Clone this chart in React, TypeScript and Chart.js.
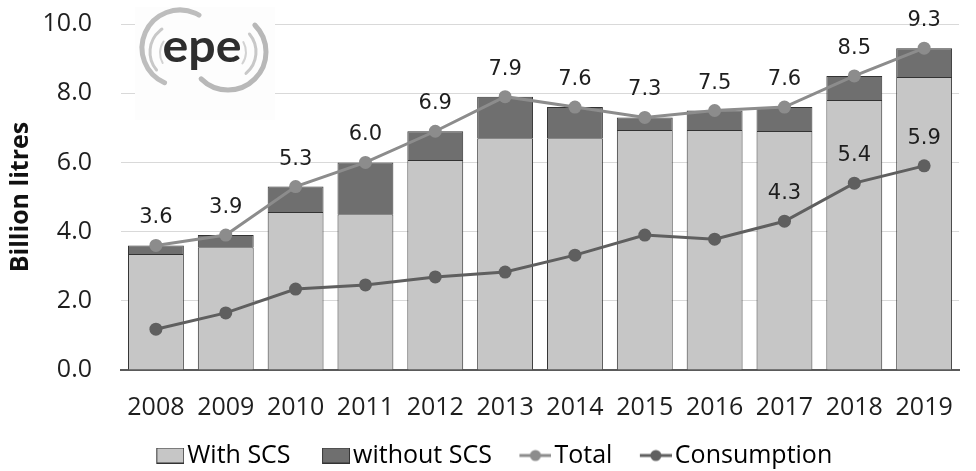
import React, { useEffect, useRef } from "react";
import { Chart, registerables } from "chart.js";

Chart.register(...registerables);

const years = ["2008", "2009", "2010", "2011", "2012", "2013", "2014", "2015", "2016", "2017", "2018", "2019"];
const withSCS = [3.35, 3.55, 4.57, 4.5, 6.07, 6.7, 6.7, 6.94, 6.94, 6.91, 7.8, 8.47];
const withoutSCS = [0.25, 0.35, 0.73, 1.5, 0.83, 1.2, 0.9, 0.36, 0.56, 0.69, 0.7, 0.83];
const total = [3.6, 3.9, 5.3, 6.0, 6.9, 7.9, 7.6, 7.3, 7.5, 7.6, 8.5, 9.3];
const consumption = [1.18, 1.65, 2.34, 2.46, 2.69, 2.83, 3.32, 3.9, 3.78, 4.3, 5.4, 5.9];
const consumptionLabelYears = ["2017", "2018", "2019"];
const yTicks = [0, 2, 4, 6, 8, 10];

const COL_WITH = "#c6c6c6";
const COL_WITHOUT = "#6f6f6f";
const COL_TOTAL = "#8c8c8c";
const COL_CONS = "#5f5f5f";
const COL_BORDER = "#333333";
const FONT = "'Open Sans'";

function rectImg(fill: string) {
  const c = document.createElement("canvas");
  c.width = 51;
  c.height = 16;
  const g = c.getContext("2d")!;
  g.fillStyle = fill;
  g.fillRect(23.5, 0.5, 27, 15);
  g.strokeStyle = COL_BORDER;
  g.lineWidth = 1;
  g.strokeRect(23.5, 0.5, 27, 15);
  return c;
}
function lineImg(color: string) {
  const c = document.createElement("canvas");
  c.width = 51;
  c.height = 14;
  const g = c.getContext("2d")!;
  g.strokeStyle = color;
  g.lineWidth = 3;
  g.beginPath();
  g.moveTo(19, 7);
  g.lineTo(51, 7);
  g.stroke();
  g.fillStyle = color;
  g.beginPath();
  g.arc(35, 7, 5.5, 0, Math.PI * 2);
  g.fill();
  return c;
}

const logoPlugin = {
  id: "logo",
  beforeDatasetsDraw(chart: any) {
    const ctx = chart.ctx;
    ctx.save();
    ctx.fillStyle = "#fdfdfd";
    ctx.fillRect(135, 7, 140, 113);
    const arc = (cx: number, cy: number, r: number, a0: number, a1: number, w: number, col: string) => {
      ctx.beginPath();
      ctx.strokeStyle = col;
      ctx.lineWidth = w;
      ctx.lineCap = "round";
      ctx.arc(cx, cy, r, (a0 * Math.PI) / 180, (a1 * Math.PI) / 180);
      ctx.stroke();
    };
    // left arcs
    arc(180, 48, 38, 114, 300, 5, "#bdbdbd");
    arc(178, 52, 28, 140, 235, 3, "#c8c8c8");
    arc(180, 53, 20, 150, 215, 2, "#d2d2d2");
    // right arcs
    arc(228, 52, 38, -45, 135, 5, "#b8b8b8");
    arc(228, 52, 28, -40, 50, 3, "#c8c8c8");
    arc(226, 52, 20, -30, 35, 2, "#d2d2d2");
    ctx.fillStyle = "#2e2e2e";
    ctx.font = "bold 46px Lato";
    ctx.textAlign = "center";
    ctx.textBaseline = "alphabetic";
    ctx.translate(202, 62);
    ctx.scale(1.05, 1);
    ctx.fillText("epe", 0, 0);
    ctx.restore();
  },
};

const labelPlugin = {
  id: "valueLabels",
  afterDatasetsDraw(chart: any) {
    const ctx = chart.ctx;
    ctx.save();
    ctx.font = "21px 'DejaVu Sans'";
    ctx.fillStyle = "#1e1e1e";
    ctx.textAlign = "center";
    ctx.textBaseline = "alphabetic";
    const tMeta = chart.getDatasetMeta(2);
    tMeta.data.forEach((p: any, i: number) => {
      ctx.fillText(total[i].toFixed(1), p.x, p.y - 22);
    });
    const cMeta = chart.getDatasetMeta(3);
    cMeta.data.forEach((p: any, i: number) => {
      if (consumptionLabelYears.includes(years[i])) {
        ctx.fillText(consumption[i].toFixed(1), p.x, p.y - 22);
      }
    });
    ctx.restore();
  },
};

export default function App() {
  const ref = useRef<HTMLCanvasElement | null>(null);
  useEffect(() => {
    const imgs = [rectImg(COL_WITH), rectImg(COL_WITHOUT), lineImg(COL_TOTAL), lineImg(COL_CONS)];
    const names = ["With SCS", "without SCS", "Total", "Consumption"];
    const chart = new Chart(ref.current!, {
      type: "bar",
      data: {
        labels: years,
        datasets: [
          {
            type: "bar",
            label: "With SCS",
            data: withSCS,
            backgroundColor: COL_WITH,
            borderColor: COL_BORDER,
            borderWidth: 1,
            stack: "bars",
            order: 2,
            barPercentage: 0.8,
            categoryPercentage: 1,
          },
          {
            type: "bar",
            label: "without SCS",
            data: withoutSCS,
            backgroundColor: COL_WITHOUT,
            borderColor: COL_BORDER,
            borderWidth: 1,
            stack: "bars",
            order: 2,
            barPercentage: 0.8,
            categoryPercentage: 1,
          },
          {
            type: "line",
            label: "Total",
            data: total,
            borderColor: COL_TOTAL,
            backgroundColor: COL_TOTAL,
            borderWidth: 3,
            pointRadius: 6.5,
            pointBorderWidth: 0,
            stack: "total",
            order: 0,
          },
          {
            type: "line",
            label: "Consumption",
            data: consumption,
            borderColor: COL_CONS,
            backgroundColor: COL_CONS,
            borderWidth: 3,
            pointRadius: 6.5,
            pointBorderWidth: 0,
            stack: "cons",
            order: 0,
          },
        ] as any,
      },
      options: {
        animation: false,
        responsive: true,
        maintainAspectRatio: false,
        layout: { padding: { top: 24, right: 1, left: 0, bottom: -7 } },
        plugins: {
          tooltip: { enabled: false },
          legend: {
            position: "bottom",
            labels: {
              usePointStyle: true,
              pointStyleWidth: 32,
              padding: 18,
              color: "#1e1e1e",
              font: { family: FONT, size: 25 },
              generateLabels: () =>
                names.map((n, i) => ({
                  text: n,
                  pointStyle: imgs[i],
                  fillStyle: "transparent",
                  strokeStyle: "transparent",
                  lineWidth: 0,
                  hidden: false,
                  datasetIndex: i,
                })) as any,
            },
          },
        },
        scales: {
          x: {
            stacked: true,
            grid: { display: false, drawTicks: false },
            border: { display: true, color: "#5a5a5a", width: 2 },
            afterFit: (s: any) => {
              s.height = 55;
            },
            ticks: {
              color: "#1e1e1e",
              font: { family: FONT, size: 25 },
              padding: 23,
              maxRotation: 0,
              autoSkip: false,
            },
          },
          y: {
            stacked: true,
            min: 0,
            max: 10,
            afterFit: (s: any) => {
              s.width = 121;
            },
            afterBuildTicks: (s: any) => {
              s.ticks = yTicks.map((v) => ({ value: v }));
            },
            grid: {
              color: "#d9d9d9",
              lineWidth: 1,
              drawTicks: true,
              tickLength: 29,
              tickColor: "rgba(0,0,0,0)",
            },
            border: { display: false },
            title: {
              display: true,
              text: "Billion litres",
              color: "#111",
              font: { family: FONT, size: 25, weight: "bold" },
              padding: { top: 6, bottom: 0 },
            },
            ticks: {
              color: "#1e1e1e",
              font: { family: FONT, size: 25 },
              padding: 0,
              callback: (v: any) => Number(v).toFixed(1),
            },
          },
        },
      },
      plugins: [logoPlugin, labelPlugin],
    });
    return () => chart.destroy();
  }, []);
  return (
    <div style={{ position: "fixed", left: 0, top: 0, width: 976, height: 471, background: "#fff" }}>
      <canvas ref={ref} />
    </div>
  );
}
